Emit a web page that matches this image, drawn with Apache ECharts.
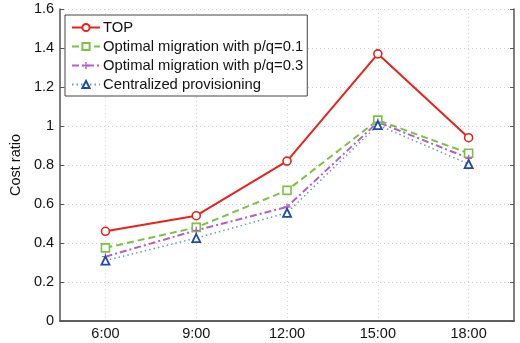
<!DOCTYPE html>
<html><head><meta charset="utf-8">
<script src="https://cdn.jsdelivr.net/npm/echarts@6/dist/echarts.min.js"></script>
<style>html,body{margin:0;padding:0;background:#fff}#c{width:520px;height:343px}</style>
</head><body><div id="c"></div>
<script>
const categories = ['6:00', '9:00', '12:00', '15:00', '18:00'];
const topValues = [0.46, 0.54, 0.82, 1.37, 0.94];
const opt01Values = [0.375, 0.48, 0.67, 1.03, 0.86];
const opt03Values = [0.33, 0.465, 0.585, 1.02, 0.835];
const centralValues = [0.31, 0.425, 0.555, 1.005, 0.805];
const seriesNames = ['TOP', 'Optimal migration with p/q=0.1', 'Optimal migration with p/q=0.3', 'Centralized provisioning'];
const yTicks = { min: 0, max: 1.6, interval: 0.2 };

const font = 'Liberation Sans';
const axisColor = '#555';
const plus = 'path://M4,0L6,0L6,4L10,4L10,6L6,6L6,10L4,10L4,6L0,6L0,4L4,4Z';

const chart = echarts.init(document.getElementById('c'));
chart.setOption({
  animation: false,
  grid: { left: 60, right: 6, top: 9, bottom: 22, show: false },
  legend: {
    orient: 'vertical', left: 65, top: 15,
    backgroundColor: '#fff', borderColor: '#444', borderWidth: 1,
    padding: [5, 4, 4, 6], itemGap: 4, itemWidth: 28, itemHeight: 9,
    textStyle: { fontFamily: font, fontSize: 14.8, color: '#111', padding: [0, 0, 0, -2] },
    data: seriesNames
  },
  xAxis: [{
    type: 'category', data: categories, boundaryGap: true,
    axisLine: { lineStyle: { color: axisColor, width: 1.5 } },
    axisTick: { inside: true, alignWithLabel: true, length: 4, lineStyle: { color: axisColor } },
    axisLabel: { fontFamily: font, fontSize: 14.5, color: '#111', margin: 5 },
    splitLine: { show: true, alignWithLabel: true, lineStyle: { color: '#d4d4d4', type: [1, 3] } }
  }, {
    type: 'category', data: categories, boundaryGap: true, position: 'top',
    axisLine: { lineStyle: { color: axisColor, width: 1.5 } },
    axisTick: { inside: true, alignWithLabel: true, length: 4, lineStyle: { color: axisColor } },
    axisLabel: { show: false }, splitLine: { show: false }
  }],
  yAxis: [{
    type: 'value', min: yTicks.min, max: yTicks.max, interval: yTicks.interval,
    name: 'Cost ratio', nameLocation: 'middle', nameGap: 28,
    nameTextStyle: { fontFamily: font, fontSize: 14.5, color: '#111' },
    axisLine: { show: true, lineStyle: { color: axisColor, width: 1.5 } },
    axisTick: { show: true, inside: true, length: 4, lineStyle: { color: axisColor } },
    axisLabel: { fontFamily: font, fontSize: 14.5, color: '#111', margin: 6,
      formatter: v => String(Math.round(v * 10) / 10) },
    splitLine: { show: true, lineStyle: { color: '#ccc', type: [1, 3] } }
  }, {
    type: 'value', min: yTicks.min, max: yTicks.max, interval: yTicks.interval, position: 'right',
    axisLine: { show: true, lineStyle: { color: axisColor, width: 1.5 } },
    axisTick: { show: true, inside: true, length: 4, lineStyle: { color: axisColor } },
    axisLabel: { show: false }, splitLine: { show: false }
  }],
  series: [{
    name: seriesNames[0], type: 'line', data: topValues,
    symbol: 'circle', symbolSize: 8, showAllSymbol: true,
    lineStyle: { color: '#e8231c', width: 2 },
    itemStyle: { color: '#fff', borderColor: '#e8231c', borderWidth: 1.6 }
  }, {
    name: seriesNames[1], type: 'line', data: opt01Values,
    symbol: 'rect', symbolSize: 8,
    lineStyle: { color: '#7cc242', width: 2, type: [7, 4] },
    itemStyle: { color: '#fff', borderColor: '#7cc242', borderWidth: 1.6 }
  }, {
    name: seriesNames[2], type: 'line', data: opt03Values,
    symbol: plus, symbolSize: 7,
    lineStyle: { color: '#b35fc4', width: 2, type: [7, 3, 2, 3] },
    itemStyle: { color: '#b35fc4', borderColor: '#b35fc4', borderWidth: 0 }
  }, {
    name: seriesNames[3], type: 'line', data: centralValues,
    symbol: 'triangle', symbolSize: 8,
    lineStyle: { color: '#6f93d6', width: 1.5, type: [1.5, 3] },
    itemStyle: { color: '#fff', borderColor: '#1f4ba8', borderWidth: 1.8 }
  }]
});
</script></body></html>
